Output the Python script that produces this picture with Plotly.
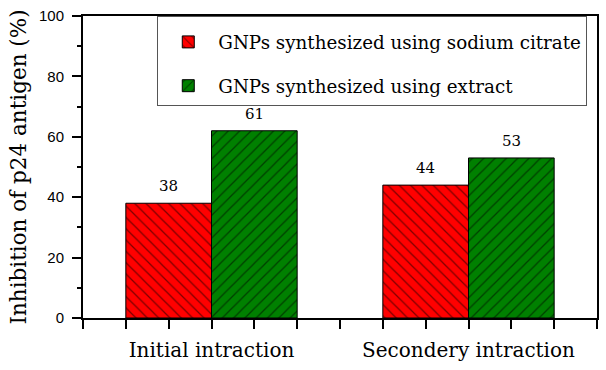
import plotly.graph_objects as go

categories = ["Initial intraction", "Secondery intraction"]
series_names = ["GNPs synthesized using sodium citrate", "GNPs synthesized using extract"]
citrate_values = [38, 44]
extract_values = [62, 53]
citrate_labels = ["38", "44"]
extract_labels = ["61", "53"]
y_ticks = [0, 20, 40, 60, 80, 100]

SERIF = "DejaVu Serif"
x_pos = [1, 2]

fig = go.Figure()
fig.add_trace(go.Bar(
    x=x_pos, y=citrate_values, name=series_names[0], legendgroup="a",
    marker=dict(color="#ff0000", line=dict(color="black", width=1),
                pattern=dict(shape="\\", fgcolor="black", size=8, solidity=0.16)),
))
fig.add_trace(go.Bar(
    x=x_pos, y=extract_values, name=series_names[1], legendgroup="b",
    marker=dict(color="#008000", line=dict(color="black", width=1),
                pattern=dict(shape="/", fgcolor="black", size=8, solidity=0.16)),
))

bar_w = 1 / 3
for i, xc in enumerate(x_pos):
    for off, vals, labs in ((-bar_w / 2, citrate_values, citrate_labels),
                            (bar_w / 2, extract_values, extract_labels)):
        fig.add_annotation(x=xc + off, y=vals[i], text=labs[i], showarrow=False,
                           yanchor="bottom", yshift=6,
                           font=dict(family=SERIF, size=15, color="black"))

tickvals = [0.5 + k / 6 for k in range(13)]
ticktext = [""] * 13
ticktext[3] = categories[0]
ticktext[9] = categories[1]

fig.update_layout(
    width=606, height=370,
    margin=dict(l=83, r=9, t=16, b=52),
    paper_bgcolor="white", plot_bgcolor="white",
    barmode="group", bargap=1 / 3, bargroupgap=0,
    showlegend=True,
    legend=dict(x=0.1445, y=1, xanchor="left", yanchor="top",
                bordercolor="#555555", borderwidth=1, bgcolor="white",
                font=dict(family=SERIF, size=18.3, color="black"),
                itemwidth=50,
                title=dict(text=" ", font=dict(size=5)),
                traceorder="grouped", tracegroupgap=17),
    xaxis=dict(range=[0.5, 2.5], tickmode="array", tickvals=tickvals, ticktext=ticktext,
               ticks="outside", ticklen=9, tickwidth=1.5, tickcolor="black",
               showline=True, linecolor="black", linewidth=2, mirror=True,
               showgrid=False, zeroline=False, ticklabelstandoff=4, automargin=False,
               tickfont=dict(family=SERIF, size=20, color="black")),
    yaxis=dict(range=[0, 100], tickvals=y_ticks,
               ticks="outside", ticklen=9, tickwidth=1.5, tickcolor="black",
               minor=dict(dtick=10, ticks="outside", ticklen=4, tickwidth=1.5, tickcolor="black"),
               showline=True, linecolor="black", linewidth=2, mirror=True,
               showgrid=False, zeroline=False, automargin=False, ticklabelstandoff=5,
               tickfont=dict(family="Liberation Sans", size=15, color="black"),
               title=dict(text="Inhibition of p24 antigen (%)", standoff=6,
                          font=dict(family=SERIF, size=21.5, color="black"))),
)

fig.write_html("out.html", config={"displayModeBar": False},
               post_script="document.body.style.margin='0';")
